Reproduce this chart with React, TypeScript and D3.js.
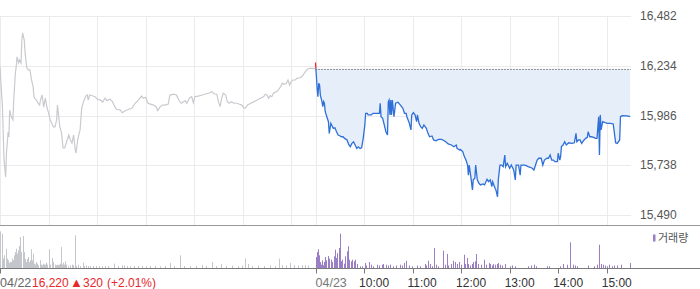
import React from 'react';
import * as d3 from 'd3';

const PREV_CLOSE = 16220;
const PRICE_TICKS = [16482, 16234, 15986, 15738, 15490];
const DAY_LABELS = ['04/22', '04/23'];
const HOUR_LABELS = ['10:00', '11:00', '12:00', '13:00', '14:00', '15:00'];
const CHANGE_PARTS = ['16,220', '▲', '320', '(+2.01%)'];
const LEGEND_LABEL = '거래량';

// [minutes after 09:00, price]
const day1Price: [number, number][] = [
  [0,16229],[3,16028],[5,15764],[7,15679],[8,15799],[10,15904],[11,15879],[12,16013],[14,15978],[16,15964],[17,16063],[19,16198],[20,16228],[21,16278],[23,16248],[24,16263],[26,16248],[27,16362],[28,16397],[30,16362],[31,16298],[33,16228],[35,16213],[37,16213],[39,16163],[41,16128],[42,16078],[45,16063],[47,16048],[49,16038],[50,16063],[52,16088],[54,16028],[56,16073],[58,16028],[60,15999],[62,15964],[64,15949],[66,15929],[68,15929],[70,15964],[71,16038],[73,15964],[74,15929],[76,15899],[78,15824],[80,15824],[83,15864],[85,15889],[87,15864],[89,15849],[91,15889],[93,15814],[94,15799],[96,15864],[98,15899],[99,15914],[101,16023],[102,16038],[104,16063],[106,16083],[108,16088],[109,16063],[111,16088],[115,16083],[118,16078],[120,16068],[124,16063],[127,16053],[130,16073],[132,16060],[136,16067],[139,16055],[142,16030],[144,16017],[149,16013],[151,16000],[155,16010],[159,16017],[163,16022],[167,16047],[171,16063],[175,16083],[177,16072],[180,16077],[183,16047],[186,16043],[190,16038],[193,16030],[195,16010],[198,16030],[201,16038],[204,16038],[208,16043],[210,16088],[215,16092],[218,16088],[221,16063],[224,16047],[227,16055],[229,16060],[231,16047],[234,16072],[237,16080],[239,16050],[241,16080],[245,16083],[250,16088],[254,16093],[258,16097],[262,16105],[265,16093],[268,16092],[270,16055],[272,16030],[274,16072],[276,16097],[279,16088],[281,16055],[283,16047],[286,16055],[289,16047],[293,16047],[296,16042],[299,16038],[301,16025],[303,16022],[306,16038],[310,16047],[314,16055],[318,16063],[322,16072],[326,16080],[328,16092],[330,16088],[332,16072],[334,16085],[336,16080],[338,16097],[343,16108],[347,16130],[349,16147],[351,16142],[354,16147],[356,16163],[358,16138],[360,16155],[362,16163],[365,16163],[367,16171],[371,16174],[374,16184],[376,16196],[379,16213],[382,16221],[386,16221],[390,16220]
];

const day2Price: [number, number][] = [
  [0,16250],[1,16188],[2,16122],[3,16080],[4,16147],[5,16138],[6,16088],[8,16055],[9,16030],[10,16055],[11,16047],[12,16005],[14,15980],[16,15955],[17,15897],[19,15947],[20,15939],[22,15922],[24,15925],[26,15905],[28,15889],[30,15885],[32,15880],[34,15880],[36,15872],[39,15864],[41,15842],[43,15830],[45,15847],[47,15855],[49,15839],[51,15822],[53,15830],[55,15822],[57,15825],[59,15872],[61,15939],[62,15997],[64,15997],[65,15989],[67,15989],[69,15989],[71,15997],[76,15997],[79,15997],[80,16047],[81,15980],[83,15972],[85,15939],[87,15905],[89,15889],[90,16055],[91,16063],[92,15989],[93,16063],[94,15989],[95,16063],[97,15980],[99,16047],[102,16052],[105,16038],[108,16022],[110,15997],[112,15997],[113,15980],[116,15947],[118,15914],[119,15989],[121,16000],[123,15989],[125,15955],[126,15989],[128,15947],[130,15930],[132,15922],[134,15939],[137,15922],[139,15897],[141,15880],[144,15884],[146,15864],[149,15860],[152,15867],[156,15867],[159,15860],[161,15855],[164,15844],[168,15839],[171,15830],[174,15839],[175,15822],[178,15814],[179,15817],[182,15806],[184,15781],[186,15764],[188,15739],[189,15689],[190,15739],[192,15681],[194,15615],[195,15665],[197,15673],[198,15739],[200,15665],[202,15648],[204,15640],[207,15645],[209,15640],[212,15668],[214,15656],[216,15665],[218,15631],[219,15656],[222,15623],[223,15615],[225,15581],[226,15665],[228,15739],[230,15739],[232,15731],[234,15789],[235,15731],[237,15748],[240,15723],[242,15739],[245,15714],[247,15665],[248,15739],[251,15739],[253,15689],[254,15739],[259,15739],[263,15731],[268,15723],[270,15714],[272,15739],[274,15764],[276,15773],[279,15773],[281,15739],[283,15764],[286,15773],[288,15773],[290,15789],[292,15764],[294,15764],[296,15756],[299,15756],[300,15798],[302,15764],[303,15781],[304,15831],[306,15839],[308,15855],[310,15839],[313,15850],[317,15847],[320,15850],[322,15897],[323,15855],[325,15864],[327,15864],[329,15847],[332,15864],[334,15872],[336,15877],[337,15905],[339,15880],[341,15880],[344,15877],[346,15872],[348,15872],[350,15980],[351,15789],[352,15989],[353,15914],[355,15955],[358,15950],[361,15947],[365,15947],[368,15944],[369,15914],[371,15850],[373,15847],[376,15864],[377,15980],[379,15985],[385,15984],[389,15980]
];

// [minutes after 09:00, volume (thousand shares)]
const day1Volume: [number, number][] = [
  [0,36.7],[2,34.3],[3,16],[4,9.4],[5,12.7],[7,19.3],[9,9.4],[10,7.7],[11,5],[12,6],[14,6],[15,9.4],[16,7.7],[17,12.7],[19,16],[20,19.3],[21,14.4],[22,17.7],[23,22],[25,31],[26,16],[28,32],[29,26],[30,16],[31,9],[32,6],[33,9],[35,11],[36,6],[37,7.7],[38,18.7],[40,7.7],[41,14.4],[42,4.4],[43,3.4],[44,6],[46,4.4],[47,2.7],[49,7.7],[50,2.7],[51,3.4],[52,2.7],[53,4.4],[54,3.4],[56,3.4],[57,5.4],[58,3.4],[60,18.7],[61,4.4],[62,3.4],[64,10],[65,6],[66,6],[68,3.4],[69,2.7],[70,3.4],[72,2.7],[73,3.4],[74,4.4],[75,21],[77,3.4],[78,5.4],[79,3.4],[80,6.7],[82,3.4],[84,2],[87,2.7],[89,3.4],[90,2.7],[93,32.7],[94,2],[96,3.4],[99,2],[102,5.4],[104,2],[106,2.7],[109,2],[111,2],[115,2],[119,2],[122,2],[126,1.7],[130,2],[133,2],[141,4.4],[146,2],[151,2.7],[153,2.5],[157,2],[161,1.7],[166,2],[171,2],[176,2],[180,1.7],[185,2],[192,2],[198,1.7],[204,2],[210,5],[215,2],[222,12.7],[227,2],[235,2],[242,2],[250,3],[255,2],[262,6],[267,2],[273,4],[279,2],[287,2.5],[294,2],[299,2.5],[303,9.4],[307,4],[311,2],[319,2.5],[326,2],[334,2.5],[340,2],[345,9.4],[349,3],[353,2.5],[358,5],[363,3],[368,2.5],[373,3],[377,3],[381,2.5]
];

const day2Volume: [number, number][] = [
  [0,11],[2,16],[3,18.7],[4,12.7],[6,6],[7,3.3],[8,7.7],[9,2.7],[11,6],[12,11],[13,7.7],[15,12],[16,6],[17,9.4],[19,8.3],[20,6],[21,6],[23,11.7],[24,18.3],[25,10],[26,6.7],[27,15],[29,20],[30,34.3],[32,6.7],[33,8.3],[35,4.3],[36,11.7],[39,16.7],[40,21.7],[41,8.3],[42,6.7],[44,6.7],[45,8.3],[47,6.7],[49,8.3],[51,4],[55,1.7],[58,1.7],[61,5],[63,2.5],[66,6],[68,3.3],[71,1.7],[76,3.3],[79,2.5],[82,3.3],[84,4],[87,3.3],[90,2.5],[92,3.3],[96,1.7],[99,2.5],[104,3.3],[107,2.5],[109,5],[112,7.3],[115,2.5],[119,1.7],[125,2.5],[129,1.7],[135,4],[137,2.5],[139,7.3],[142,4],[144,1.7],[147,20],[149,3.3],[152,1.7],[158,17.3],[160,3.3],[162,14],[164,2.5],[167,4],[170,7.3],[172,6],[175,4],[178,6],[180,3.3],[183,13.3],[185,4],[187,10],[189,4],[191,2.5],[193,4],[195,6],[197,6.7],[199,14],[201,4],[205,3.3],[208,8.3],[211,3.3],[214,5],[216,4],[218,2.5],[220,4],[222,3.3],[224,4],[226,5],[228,3.3],[231,2.5],[234,4],[240,1.7],[243,2.5],[247,1.7],[263,1.7],[267,2.5],[270,3.3],[273,1.7],[286,1.7],[289,1.7],[302,1.7],[306,4],[311,3.3],[315,25.7],[318,3.3],[321,2.5],[323,1.7],[337,2.5],[344,1.7],[348,3.3],[350,23.3],[351,11.7],[353,4],[355,3.3],[358,2.5],[360,1.7],[363,3.3],[366,1.7],[369,2.5],[373,2.5],[378,3.3],[389,5]
];

const FONT = '"Liberation Sans", Arial, "Noto Sans CJK KR", sans-serif';

export default function App() {
  const W = 700, H = 289;
  const DAY = 390;
  const x = d3.scaleLinear().domain([0, DAY * 2]).range([0, 631]);
  const y = d3.scaleLinear().domain([15490, 16482]).range([215, 16]);
  const v = d3.scaleLinear().domain([0, 40]).range([268, 228]);

  const d1 = day1Price.map(([t, p]) => ({ t, p }));
  const d2 = day2Price.map(([t, p]) => ({ t: t + DAY, p }));
  const line = d3.line<{ t: number; p: number }>().x(d => x(d.t)).y(d => y(d.p));
  const base = y(PREV_CLOSE);
  const area = d3.area<{ t: number; p: number }>().x(d => x(d.t)).y0(base).y1(d => y(d.p));

  const crisp = (n: number) => Math.round(n) + 0.5;
  const d1Grid = d3.range(0, DAY, 60);
  const d2Grid = d3.range(DAY, DAY * 2, 60);
  const plotRight = x(DAY * 2);
  const tickMins = [0].concat(d2Grid);

  return (
    <svg width={W} height={H} style={{ position: 'absolute', left: 0, top: 0, fontFamily: FONT }}>
      <defs>
        <clipPath id="above"><rect x={0} y={0} width={W} height={base} /></clipPath>
        <clipPath id="below"><rect x={0} y={base} width={W} height={H - base} /></clipPath>
      </defs>
      {PRICE_TICKS.map(t => (
        <line key={'h' + t} x1={0} x2={plotRight} y1={crisp(y(t))} y2={crisp(y(t))} stroke="#ebebeb" />
      ))}
      {d1Grid.concat(d2Grid).map(m => (
        <line key={'v' + m} x1={crisp(x(m))} x2={crisp(x(m))} y1={y(16482)} y2={225} stroke="#ebebeb" />
      ))}
      <path d={area(d2) || ''} fill="#e6eefa" clipPath="url(#below)" />
      <path d={area(d2) || ''} fill="#fbe6e6" clipPath="url(#above)" />
      <line x1={x(DAY)} x2={plotRight} y1={crisp(base)} y2={crisp(base)} stroke="#444" strokeDasharray="1,2" />
      <path d={line(d1) || ''} fill="none" stroke="#c9cacf" strokeWidth={1.2} />
      <path d={line(d2) || ''} fill="none" stroke="#2f6fd8" strokeWidth={1.3} clipPath="url(#below)" />
      <path d={line(d2) || ''} fill="none" stroke="#f0262b" strokeWidth={1.3} clipPath="url(#above)" />
      {PRICE_TICKS.map(t => (
        <text key={'l' + t} x={640} y={y(t)} dy="0.35em" fontSize={12} fill="#555">{d3.format(',')(t)}</text>
      ))}
      <line x1={0} x2={W} y1={225.5} y2={225.5} stroke="#999" />
      {day1Volume.map(([t, val]) => (
        <rect key={'a' + t} x={Math.round(x(t))} y={v(val)} width={1} height={v(0) - v(val)} fill="#c4c6cb" />
      ))}
      {day2Volume.map(([t, val]) => (
        <rect key={'b' + t} x={Math.round(x(t + DAY))} y={v(val)} width={1} height={v(0) - v(val)} fill="#9a7fc7" />
      ))}
      <line x1={0} x2={W} y1={268.5} y2={268.5} stroke="#7a7a7a" />
      {tickMins.map(m => (
        <line key={'t' + m} x1={crisp(x(m))} x2={crisp(x(m))} y1={268} y2={273.5} stroke="#7a7a7a" />
      ))}
      <rect x={653} y={234.5} width={2.5} height={7} fill="#9a7fc7" />
      <text x={658} y={241.5} fontSize={11} fill="#555">{LEGEND_LABEL}</text>
      <text x={0} y={286.5} fontSize={12.5} fill="#666">{DAY_LABELS[0]}</text>
      <text x={32} y={286.5} fontSize={12} fill="#e8262b">{CHANGE_PARTS[0]}</text>
      <text x={70} y={286.5} fontSize={13} fill="#e8262b">{CHANGE_PARTS[1]}</text>
      <text x={83} y={286.5} fontSize={12} fill="#e8262b">{CHANGE_PARTS[2]}</text>
      <text x={107} y={286.5} fontSize={12} fill="#e8262b">{CHANGE_PARTS[3]}</text>
      <text x={x(DAY)} y={286.5} fontSize={12.5} fill="#777">{DAY_LABELS[1]}</text>
      {HOUR_LABELS.map((lab, i) => (
        <text key={lab} x={x(DAY + 60 * (i + 1)) - 5} y={286.5} fontSize={12} fill="#333">{lab}</text>
      ))}
    </svg>
  );
}
